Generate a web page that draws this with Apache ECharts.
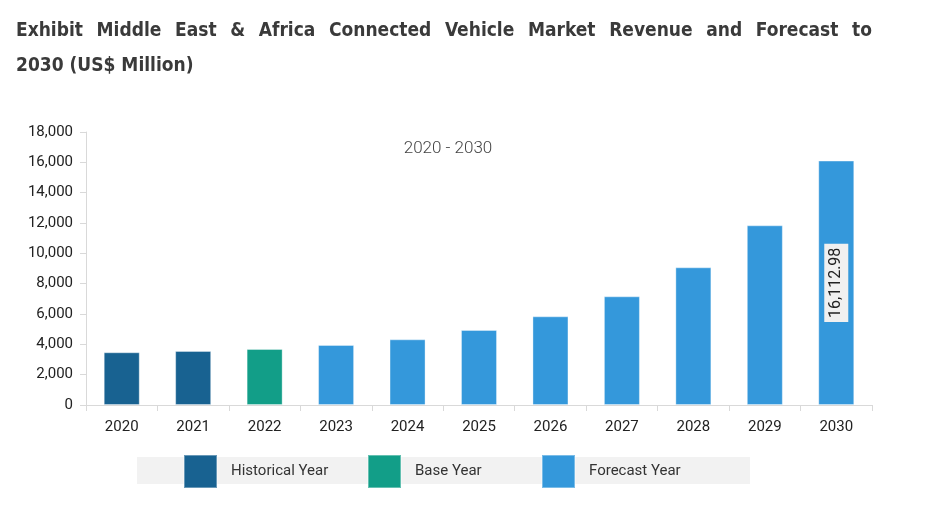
<!DOCTYPE html>
<html>
<head>
<meta charset="utf-8">
<script src="https://cdn.jsdelivr.net/npm/echarts@6/dist/echarts.min.js"></script>
<style>
html,body{margin:0;padding:0;background:#fff;}
#c{width:932px;height:507px;}
</style>
</head>
<body>
<div id="c"></div>
<script>
var years = ['2020','2021','2022','2023','2024','2025','2026','2027','2028','2029','2030'];
var revenue = [3475, 3560, 3692, 3956, 4330, 4945, 5846, 7165, 9077, 11846, 16112.98];
var periodOf = ['Historical Year','Historical Year','Base Year','Forecast Year','Forecast Year','Forecast Year','Forecast Year','Forecast Year','Forecast Year','Forecast Year','Forecast Year'];
var periods = ['Historical Year','Base Year','Forecast Year'];
var periodColors = ['#186291','#129e88','#3498db'];
var labeledYear = '2030';
var titleLines = ['Exhibit Middle East & Africa Connected Vehicle Market Revenue and Forecast to', '2030 (US$ Million)'];

var chart = echarts.init(document.getElementById('c'));
var fam = 'Roboto, "DejaVu Sans", sans-serif';
var titleFont = '"DejaVu Sans Condensed", "DejaVu Sans", sans-serif';
var titleSize = 19;

function fmt(v){
  return v.toLocaleString('en-US', {minimumFractionDigits:2, maximumFractionDigits:2});
}

// justified title built as text elements
var cv = document.createElement('canvas').getContext('2d');
cv.font = 'bold ' + titleSize + 'px ' + titleFont;
var titleGraphics = [];
var tLeft = 16, tRight = 872, lineY = [31, 66];
titleLines.forEach(function(line, li){
  var words = line.split(' ');
  var widths = words.map(function(w){ return cv.measureText(w).width; });
  var total = widths.reduce(function(a,b){return a+b;}, 0);
  var justify = li < titleLines.length - 1;
  var gap = justify ? (tRight - tLeft - total) / (words.length - 1) : cv.measureText(' ').width;
  var x = tLeft;
  words.forEach(function(w, wi){
    titleGraphics.push({
      type: 'text', x: x, y: lineY[li],
      style: {text: w, fill: '#3a3a3a', font: 'bold ' + titleSize + 'px ' + titleFont, textVerticalAlign: 'middle', verticalAlign: 'middle'}
    });
    x += widths[wi] + gap;
  });
});

var series = periods.map(function(p, pi){
  return {
    name: p,
    type: 'bar',
    stack: 'all',
    barWidth: 36,
    itemStyle: {color: periodColors[pi], borderColor: 'rgba(255,255,255,0.35)', borderWidth: 1},
    data: revenue.map(function(v, i){
      if (periodOf[i] !== p) return null;
      var d = {value: v};
      if (years[i] === labeledYear) {
        d.label = {
          show: true, position: 'inside', rotate: 90,
          formatter: function(o){ return fmt(o.value); },
          color: '#222', fontFamily: fam, fontSize: 16,
          backgroundColor: '#f0f0f0', padding: [5, 4, 3, 4]
        };
      }
      return d;
    })
  };
});

var legendX = [183, 367, 541];
var legends = periods.map(function(p, pi){
  return {
    data: [p], left: legendX[pi], top: 454, padding: 0,
    itemWidth: 33, itemHeight: 33, icon: 'rect',
    textStyle: {fontFamily: fam, fontSize: 15, color: '#333', padding: [0,0,0,9]},
    selectedMode: false
  };
});

chart.setOption({
  animation: false,
  backgroundColor: '#fff',
  title: [{
    text: years[0] + ' - ' + years[years.length-1],
    left: 443, top: 135, textAlign: 'center',
    textStyle: {fontFamily: fam, fontWeight: 300, fontSize: 17, color: '#444'}
  }],
  graphic: [{
    type: 'rect', left: 137, top: 457, z: -1,
    shape: {width: 613, height: 27},
    style: {fill: '#f2f2f2'}
  }].concat(titleGraphics),
  legend: legends,
  grid: {left: 86, right: 60, top: 132, bottom: 102},
  xAxis: {
    type: 'category', data: years,
    axisLine: {lineStyle: {color: '#d9d9d9', width: 1}},
    axisTick: {show: true, length: 6, lineStyle: {color: '#d9d9d9'}},
    axisLabel: {fontFamily: fam, fontSize: 15, color: '#222', margin: 15}
  },
  yAxis: {
    type: 'value', min: 0, max: 18000, interval: 2000,
    axisLine: {show: true, lineStyle: {color: '#d9d9d9'}},
    axisTick: {show: true, length: 6, lineStyle: {color: '#d9d9d9'}},
    splitLine: {show: false},
    axisLabel: {fontFamily: fam, fontSize: 15, color: '#222', margin: 13,
      formatter: function(v){ return v.toLocaleString('en-US'); }}
  },
  series: series
});
</script>
</body>
</html>
